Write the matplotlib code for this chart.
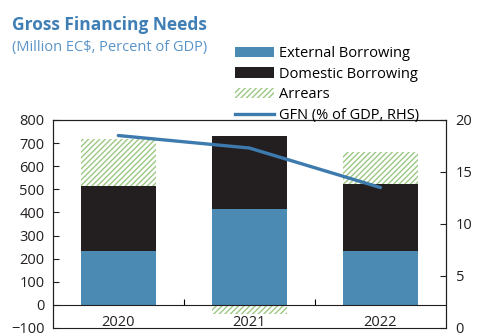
import matplotlib
matplotlib.use('Agg')
import matplotlib.pyplot as plt
from matplotlib.patches import Patch
from matplotlib.lines import Line2D

plt.rcParams['font.family'] = ['Open Sans', 'DejaVu Sans']
plt.rcParams['hatch.linewidth'] = 1.0

# data (million EC$ / percent of GDP)
years = ['2020', '2021', '2022']
external = [235, 413, 235]
domestic = [278, 317, 287]
arrears = [203, -40, 140]
gfn_pct = [18.5, 17.3, 13.5]

c_ext = '#4a8ab3'
c_dom = '#231f20'
c_arr = '#9cc784'
c_line = '#3d7aae'

fig = plt.figure(figsize=(4.8, 3.35), dpi=100)
ax = fig.add_axes([0.110, 0.021, 0.819, 0.621])

x = range(len(years))
w = 0.57
ax.bar(x, external, w, color=c_ext, zorder=2)
ax.bar(x, domestic, w, bottom=external, color=c_dom, zorder=2)
# arrears stack on top when positive, hang below zero when negative
arr_base = [e + d if a >= 0 else 0 for e, d, a in zip(external, domestic, arrears)]
ax.bar(x, arrears, w, bottom=arr_base, color='none', edgecolor=c_arr,
       hatch='//////', linewidth=0, zorder=2)

ax.set_xlim(-0.5, 2.5)
ax.set_ylim(-100, 800)
ax.set_yticks(range(-100, 801, 100))
ax.tick_params(axis='y', direction='in', length=4, pad=6, labelsize=10.5,
               colors='#231f20')

# zero line carries the year labels and the small separators between years
ax.spines['bottom'].set_position(('data', 0))
ax.set_xticks(list(x))
ax.set_xticklabels(years)
ax.set_xticks([0.5, 1.5], minor=True)
ax.tick_params(axis='x', which='major', length=0, pad=7, labelsize=10.5,
               colors='#231f20')
ax.tick_params(axis='x', which='minor', direction='in', length=4, width=0.8)
for s in ax.spines.values():
    s.set_color('#231f20')
    s.set_linewidth(0.8)

ax2 = ax.twinx()
ax2.plot(x, gfn_pct, color=c_line, lw=2.4, solid_capstyle='round', zorder=3)
ax2.set_ylim(0, 20)
ax2.set_yticks([0, 5, 10, 15, 20])
ax2.tick_params(axis='y', direction='in', length=4, pad=7, labelsize=10.5,
                colors='#231f20')
for s in ax2.spines.values():
    s.set_color('#231f20')
    s.set_linewidth(0.8)

fig.text(0.025, 1 - 30 / 335, 'Gross Financing Needs', fontsize=12.5,
         fontweight='bold', color='#3f7fb5', va='baseline')
fig.text(0.025, 1 - 51 / 335, '(Million EC$, Percent of GDP)', fontsize=10.5,
         color='#5a94c8', va='baseline')

handles = [
    Patch(facecolor=c_ext, label='External Borrowing'),
    Patch(facecolor=c_dom, label='Domestic Borrowing'),
    Patch(facecolor='none', edgecolor=c_arr, hatch='//////', linewidth=0,
          label='Arrears'),
    Line2D([], [], color=c_line, lw=2.4, label='GFN (% of GDP, RHS)'),
]
fig.legend(handles=handles, loc='upper left', bbox_to_anchor=(235 / 480, 1 - 46 / 335),
           frameon=False, fontsize=10.5, borderpad=0, borderaxespad=0,
           handlelength=2.7, handletextpad=0.35, labelspacing=0.38)

fig.savefig('out.png', dpi=100)
